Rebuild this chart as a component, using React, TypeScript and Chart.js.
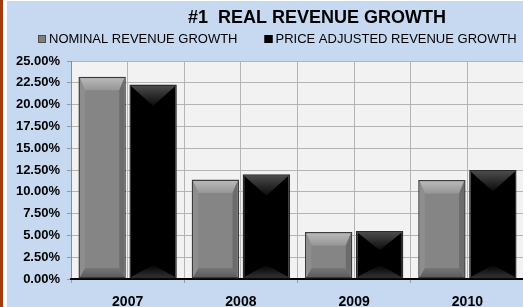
import React, { useEffect, useRef } from 'react';
import { Chart, registerables } from 'chart.js';

Chart.register(...registerables);

const categories = ['2007', '2008', '2009', '2010'];
const nominalGrowth = [23.2, 11.4, 5.4, 11.35];
const priceAdjustedGrowth = [22.3, 12.0, 5.5, 12.5];
const seriesLabels = ['NOMINAL REVENUE GROWTH', 'PRICE ADJUSTED REVENUE GROWTH'];
const titleText = '#1  REAL REVENUE GROWTH';
const yMin = 0;
const yMax = 25;
const yStep = 2.5;

const FONT = '"Liberation Sans", Arial, Helvetica, sans-serif';

const plotBgPlugin = {
  id: 'plotBg',
  beforeDraw(chart: any) {
    const { ctx, chartArea } = chart;
    ctx.save();
    ctx.fillStyle = '#f2f2f2';
    ctx.fillRect(chartArea.left, chartArea.top, chartArea.right - chartArea.left, chartArea.bottom - chartArea.top);
    ctx.restore();
  },
};

function poly(ctx: CanvasRenderingContext2D, pts: number[][], fill: any) {
  ctx.beginPath();
  ctx.moveTo(pts[0][0], pts[0][1]);
  for (let i = 1; i < pts.length; i++) ctx.lineTo(pts[i][0], pts[i][1]);
  ctx.closePath();
  ctx.fillStyle = fill;
  ctx.fill();
}

const bevelPlugin = {
  id: 'bevel',
  afterDatasetsDraw(chart: any) {
    const ctx: CanvasRenderingContext2D = chart.ctx;
    chart.data.datasets.forEach((ds: any, di: number) => {
      const meta = chart.getDatasetMeta(di);
      meta.data.forEach((el: any) => {
        const p = el.getProps(['x', 'y', 'base', 'width'], true);
        const l = p.x - p.width / 2 + 1.5;
        const r = p.x + p.width / 2 - 1.5;
        const t = Math.min(p.y, p.base) + 1.5;
        const b = Math.max(p.y, p.base) - 1.5;
        const h = b - t;
        if (h <= 2) return;
        ctx.save();
        if (ds.bevelStyle === 'gray') {
          const s = 5;
          const tt = Math.min(12, h * 0.3);
          const bb = Math.min(9, h * 0.25);
          const gTop = ctx.createLinearGradient(0, t, 0, t + tt);
          gTop.addColorStop(0, '#b8b8b8');
          gTop.addColorStop(1, '#969696');
          poly(ctx, [[l, t], [r, t], [r - s, t + tt], [l + s, t + tt]], gTop);
          const gBot = ctx.createLinearGradient(0, b, 0, b - bb);
          gBot.addColorStop(0, '#5c5c5c');
          gBot.addColorStop(1, '#767676');
          poly(ctx, [[l, b], [r, b], [r - s, b - bb], [l + s, b - bb]], gBot);
          poly(ctx, [[l, t], [l + s, t + tt], [l + s, b - bb], [l, b]], '#8e8e8e');
          poly(ctx, [[r, t], [r - s, t + tt], [r - s, b - bb], [r, b]], '#6c6c6c');
        } else {
          const cx = (l + r) / 2;
          const td = Math.min(20, h * 0.4);
          const bd = Math.min(12, h * 0.3);
          const gTop = ctx.createLinearGradient(0, t, 0, t + td);
          gTop.addColorStop(0, '#4a4a4a');
          gTop.addColorStop(1, '#0a0a0a');
          poly(ctx, [[l, t], [r, t], [cx, t + td]], gTop);
          const gBot = ctx.createLinearGradient(0, b, 0, b - bd);
          gBot.addColorStop(0, '#2e2e2e');
          gBot.addColorStop(1, '#030303');
          poly(ctx, [[l, b], [r, b], [cx, b - bd]], gBot);
        }
        ctx.restore();
      });
    });
  },
};

const legendPlugin = {
  id: 'customLegend',
  afterDraw(chart: any) {
    const ctx: CanvasRenderingContext2D = chart.ctx;
    ctx.save();
    ctx.font = `13px ${FONT}`;
    ctx.textBaseline = 'middle';
    ctx.textAlign = 'left';
    let x = 31;
    const yMid = 38;
    chart.data.datasets.forEach((ds: any) => {
      ctx.fillStyle = ds.legendFill;
      ctx.fillRect(x, yMid - 4, 8, 8);
      ctx.strokeStyle = ds.legendStroke;
      ctx.lineWidth = 1;
      ctx.strokeRect(x + 0.5, yMid - 3.5, 7, 7);
      ctx.fillStyle = '#000000';
      ctx.fillText(ds.label, x + 11, yMid);
      x += 11 + ctx.measureText(ds.label).width + 27;
    });
    ctx.restore();
  },
};

export default function App() {
  const canvasRef = useRef<HTMLCanvasElement | null>(null);

  useEffect(() => {
    const canvas = canvasRef.current;
    if (!canvas) return;
    const chart = new Chart(canvas, {
      type: 'bar',
      data: {
        labels: categories,
        datasets: [
          {
            label: seriesLabels[0],
            data: nominalGrowth,
            backgroundColor: '#858585',
            borderColor: '#3c3c3c',
            borderWidth: 1.5,
            borderSkipped: false,
            categoryPercentage: 0.9,
            barPercentage: 0.93,
            xAxisID: 'x',
            yAxisID: 'y',
            bevelStyle: 'gray',
            legendFill: '#7f7f7f',
            legendStroke: '#4a4a4a',
          } as any,
          {
            label: seriesLabels[1],
            data: priceAdjustedGrowth,
            backgroundColor: '#000000',
            borderColor: '#2a2a2a',
            borderWidth: 1.5,
            borderSkipped: false,
            categoryPercentage: 0.9,
            barPercentage: 0.93,
            xAxisID: 'x',
            yAxisID: 'y',
            bevelStyle: 'black',
            legendFill: '#000000',
            legendStroke: '#000000',
          } as any,
        ],
      },
      options: {
        responsive: false,
        animation: false,
        devicePixelRatio: 1,
        layout: { padding: { left: 0, right: 0, top: 0, bottom: 0 } },
        plugins: {
          legend: { display: false },
          tooltip: { enabled: false },
          title: {
            display: true,
            text: titleText,
            color: '#000000',
            font: { family: FONT, size: 18, weight: 'bold' },
            padding: { top: 6, bottom: 32.4 },
          },
        },
        scales: {
          y: {
            min: yMin,
            max: yMax,
            ticks: {
              stepSize: yStep,
              color: '#000000',
              font: { family: FONT, size: 13, weight: 'bold' },
              padding: 7,
              callback: (v: any) => Number(v).toFixed(2) + '%',
            },
            grid: { color: '#b4b4b4', lineWidth: 1, tickLength: 4, drawTicks: true, tickColor: '#9a9a9a' },
            border: { display: true, color: '#8c8c8c', width: 1 },
            afterFit: (s: any) => { s.width = 64; },
          },
          yRight: {
            type: 'linear',
            position: 'right',
            display: true,
            ticks: { display: false },
            grid: { display: false, drawTicks: false },
            border: { display: false },
            afterFit: (s: any) => { s.width = 103; },
          },
          x: {
            type: 'category',
            position: 'bottom',
            offset: true,
            ticks: {
              color: '#000000',
              font: { family: FONT, size: 14, weight: 'bold' },
              padding: 11,
            },
            grid: { offset: true, color: '#b4b4b4', lineWidth: 1, tickLength: 4, drawTicks: true, tickColor: '#9a9a9a' },
            border: { display: true, color: '#000000', width: 2 },
            afterFit: (s: any) => { s.height = 28; },
          },
          x2: {
            type: 'category',
            position: 'bottom',
            offset: true,
            labels: categories,
            ticks: { display: false },
            grid: { offset: false, color: '#b4b4b4', lineWidth: 1, drawTicks: false },
            border: { display: false },
            afterFit: (s: any) => { s.height = 0; },
          },
        },
      } as any,
      plugins: [plotBgPlugin, bevelPlugin, legendPlugin],
    });
    return () => chart.destroy();
  }, []);

  return (
    <div style={{ position: 'fixed', left: 0, top: 0, width: 523, height: 307, background: '#ffffff', overflow: 'hidden' }}>
      <div style={{ position: 'absolute', left: 0, top: 0, width: 3, height: 307, background: '#a23c0e' }} />
      <div style={{ position: 'absolute', left: 7, top: 1, width: 516, height: 306, background: '#c6d9f1', overflow: 'hidden' }}>
        <canvas ref={canvasRef} width={620} height={306} style={{ display: 'block', width: 620, height: 306 }} />
      </div>
    </div>
  );
}
